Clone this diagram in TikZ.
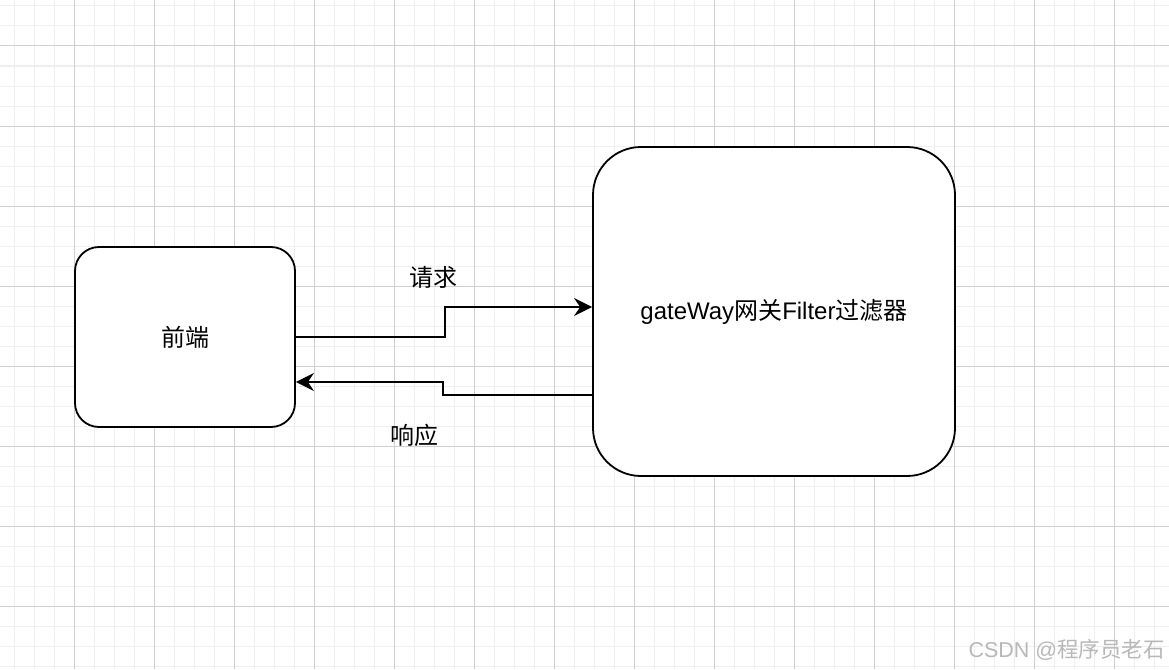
\documentclass[tikz,border=0pt]{standalone}
\usepackage{fontspec}
\setmainfont{Liberation Sans}
\newfontfamily\cjk{Noto Sans CJK SC}
\usetikzlibrary{arrows.meta}
\definecolor{minorgrid}{HTML}{EFEFEF}
\definecolor{majorgrid}{HTML}{D0D0D0}
\definecolor{wmgray}{HTML}{B8B8B8}
\tikzset{
  box/.style={draw=black, line width=1.8pt, fill=white, font=\fontsize{24}{28}\selectfont},
  conn/.style={draw=black, line width=2pt, -{Stealth[length=18pt,width=18pt,inset=6pt]}},
  lbl/.style={font=\fontsize{24}{28}\selectfont\cjk, inner sep=0pt}
}
\begin{document}
\begin{tikzpicture}[x=1pt,y=-1pt]
\useasboundingbox (0,0) rectangle (1169,669);
\fill[white] (0,0) rectangle (1169,669);
% grid
\foreach \x in {14,34,...,1169} \draw[minorgrid, line width=1pt] (\x,0) -- (\x,669);
\foreach \y in {6,26,...,669} \draw[minorgrid, line width=1pt] (0,\y) -- (1169,\y);
\foreach \x in {74,154,...,1169} \draw[majorgrid, line width=1pt] (\x,0) -- (\x,669);
\foreach \y in {46,126,...,669} \draw[majorgrid, line width=1pt] (0,\y) -- (1169,\y);
% boxes
\node[box, rounded corners=24pt, minimum width=220pt, minimum height=180pt] (fe) at (185,337) {\cjk 前端};
\node[box, rounded corners=48pt, minimum width=362pt, minimum height=329pt] (gw) at (774,311.5) {gateWay{\cjk 网关}Filter{\cjk 过滤器}};
% connectors
\draw[conn] (fe.east) -- ++(149pt,0) |- ([yshift=4.5pt]gw.west);
\draw[conn] ([yshift=-83pt]gw.west) -- ++(-149pt,0) |- ([yshift=-45pt]fe.east);
% labels
\node[lbl] (req) at (433,277) {请求};
\node[lbl] (resp) at (414,435) {响应};
% watermark
\node[anchor=east, inner sep=0pt, text=wmgray, font=\fontsize{21.5}{24}\selectfont] (wm) at (1165,650) {CSDN @{\cjk 程序员老石}};
\end{tikzpicture}
\end{document}
